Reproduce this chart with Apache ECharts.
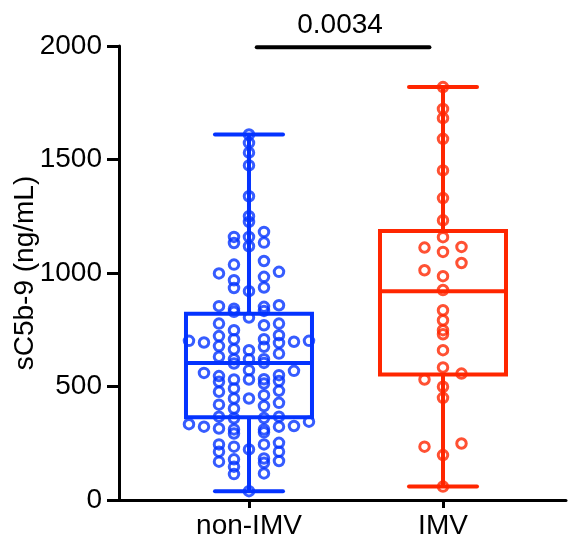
<!DOCTYPE html>
<html>
<head>
<meta charset="utf-8">
<script src="https://cdn.jsdelivr.net/npm/echarts@6/dist/echarts.min.js"></script>
<style>
  html, body { margin: 0; padding: 0; background: #fff; }
  #chart { width: 571px; height: 556px; }
</style>
</head>
<body>
<div id="chart"></div>
<script>
// groups on the x axis
const categories = ['non-IMV', 'IMV'];

// sC5b-9 values (ng/mL)
const nonImv = [
  1610, 1573, 1530, 1474, 1338, 1225, 1159, 1118, 1053, 968, 920, 843, 708, 664, 620, 569, 521, 477, 428, 315, 213, 114, 39,
  1250, 1134, 983, 936, 829, 777, 722, 675, 620, 572, 532, 491, 447, 403, 345, 298, 235, 147,
  1181, 1132, 1037, 934, 858, 804, 748, 701, 660, 620, 531, 462, 414, 360, 311, 213, 169, 117,
  1005, 833, 770, 708, 631, 513, 447, 334, 293, 223, 164,
  1159, 998, 851, 777, 697, 604, 531, 481, 420, 361, 311, 245, 172,
  854, 726, 678, 601, 550, 367, 323, 245, 179,
  692, 645, 560, 367, 252, 183,
  694, 524, 326,
  701, 546, 323
];
const imv = [
  1819, 1723, 1682, 1591, 1452, 1330, 1232, 1158, 1115, 1112, 1093, 1044, 1012, 986, 925,
  836, 792, 748, 730, 660, 584, 557, 531, 499, 450, 249, 235, 198, 59
];

// box stats: min, Q1, median, Q3, max
const boxNonImv = [39, 364, 604, 821, 1610];
const boxImv = [59, 553, 920, 1185, 1819];

// y ticks
const yTicks = [0, 500, 1000, 1500, 2000];

// comparison bar between the groups
const pValue = '0.0034';
const sigFrom = 1.04, sigTo = 1.93, sigLevel = 1995;

const BLUE = '#0433FF';
const RED = '#FF2600';
const FONT = '"Liberation Sans", Arial, Helvetica, sans-serif';

// layout of the plotting area
const gridLeft = 119, gridRight = 5, gridTop = 46, gridBottom = 56;
const xMin = 0.33, xMax = 2.634;
const pxPerX = (571 - gridLeft - gridRight) / (xMax - xMin);

// points in rows of similar value, spread sideways (prism-like column scatter)
function swarm(values, center, stepPx, binSize) {
  const bins = {};
  values.forEach(v => {
    const k = Math.floor(v / binSize);
    (bins[k] = bins[k] || []).push(v);
  });
  const out = [];
  Object.keys(bins).forEach(k => {
    const list = bins[k].slice().sort((a, b) => a - b);
    const slots = [];
    if (list.length % 2) slots.push(0);
    for (let i = 1; slots.length < list.length; i++) {
      slots.push(-i);
      if (slots.length < list.length) slots.push(i);
    }
    list.forEach((v, i) => out.push([center + slots[i] * stepPx / pxPerX, v]));
  });
  return out;
}

function boxRenderer(color) {
  return function (params, api) {
    const x = api.value(0);
    const lo = api.coord([x, api.value(1)]);
    const q1 = api.coord([x, api.value(2)]);
    const med = api.coord([x, api.value(3)]);
    const q3 = api.coord([x, api.value(4)]);
    const hi = api.coord([x, api.value(5)]);
    const bw = 63, cw = 34;
    const st = { stroke: color, lineWidth: 4, fill: null };
    const rst = { stroke: color, lineWidth: 4, fill: null, lineCap: 'round' };
    return {
      type: 'group',
      children: [
        { type: 'line', shape: { x1: hi[0], y1: hi[1], x2: q3[0], y2: q3[1] }, style: st },
        { type: 'line', shape: { x1: q1[0], y1: q1[1], x2: lo[0], y2: lo[1] }, style: st },
        { type: 'line', shape: { x1: hi[0] - cw, y1: hi[1], x2: hi[0] + cw, y2: hi[1] }, style: rst },
        { type: 'line', shape: { x1: lo[0] - cw, y1: lo[1], x2: lo[0] + cw, y2: lo[1] }, style: rst },
        { type: 'rect', shape: { x: q3[0] - bw, y: q3[1], width: bw * 2, height: q1[1] - q3[1] }, style: st },
        { type: 'line', shape: { x1: med[0] - bw, y1: med[1], x2: med[0] + bw, y2: med[1] }, style: st }
      ]
    };
  };
}

const chart = echarts.init(document.getElementById('chart'));

chart.setOption({
  animation: false,
  backgroundColor: '#fff',
  grid: {
    left: gridLeft, right: gridRight, top: gridTop, bottom: gridBottom,
    containLabel: false, outerBoundsMode: 'none'
  },
  xAxis: {
    type: 'value',
    min: xMin,
    max: xMax,
    splitLine: { show: false },
    axisLine: { lineStyle: { color: '#000', width: 3 } },
    axisTick: { customValues: [1, 2], length: 8, lineStyle: { color: '#000', width: 3 } },
    axisLabel: {
      customValues: [1, 2],
      formatter: v => categories[Math.round(v) - 1],
      color: '#000',
      fontSize: 28,
      fontFamily: FONT,
      margin: 12
    }
  },
  yAxis: {
    type: 'value',
    min: yTicks[0],
    max: yTicks[yTicks.length - 1],
    interval: 500,
    name: 'sC5b-9 (ng/mL)',
    nameLocation: 'middle',
    nameGap: 80,
    nameMoveOverlap: false,
    nameTextStyle: { color: '#000', fontSize: 28, fontFamily: FONT },
    splitLine: { show: false },
    axisLine: { show: true, lineStyle: { color: '#000', width: 3 } },
    axisTick: { show: true, length: 12, lineStyle: { color: '#000', width: 3 } },
    axisLabel: { color: '#000', fontSize: 28, fontFamily: FONT, margin: 17, formatter: v => String(v) }
  },
  series: [
    {
      type: 'custom',
      silent: true,
      renderItem: boxRenderer(BLUE),
      data: [[1].concat(boxNonImv)],
      encode: { x: 0, y: [1, 2, 3, 4, 5] },
      z: 2
    },
    {
      type: 'custom',
      silent: true,
      renderItem: boxRenderer(RED),
      data: [[2].concat(boxImv)],
      encode: { x: 0, y: [1, 2, 3, 4, 5] },
      z: 2
    },
    {
      type: 'scatter',
      silent: true,
      symbol: 'circle',
      symbolSize: 9.5,
      itemStyle: { color: 'rgba(255,255,255,0)', borderColor: BLUE, borderWidth: 3 },
      data: swarm(nonImv, 1, 15, 44),
      z: 3
    },
    {
      type: 'scatter',
      silent: true,
      symbol: 'circle',
      symbolSize: 9.5,
      itemStyle: { color: 'rgba(255,255,255,0)', borderColor: RED, borderWidth: 3 },
      data: swarm(imv, 2, 18.5, 44),
      z: 3
    },
    {
      type: 'custom',
      silent: true,
      clip: false,
      data: [[sigFrom, sigTo, sigLevel]],
      encode: { x: [0, 1], y: 2 },
      renderItem: function (params, api) {
        const a = api.coord([api.value(0), api.value(2)]);
        const b = api.coord([api.value(1), api.value(2)]);
        return {
          type: 'group',
          children: [
            { type: 'line', shape: { x1: a[0], y1: a[1], x2: b[0], y2: b[1] },
              style: { stroke: '#000', lineWidth: 4, lineCap: 'round' } },
            { type: 'text', x: (a[0] + b[0]) / 2 - 3, y: a[1] - 8,
              style: { text: pValue, fill: '#000', fontSize: 28, fontFamily: FONT,
                       align: 'center', verticalAlign: 'bottom' } }
          ]
        };
      },
      z: 4
    }
  ]
});
</script>
</body>
</html>
